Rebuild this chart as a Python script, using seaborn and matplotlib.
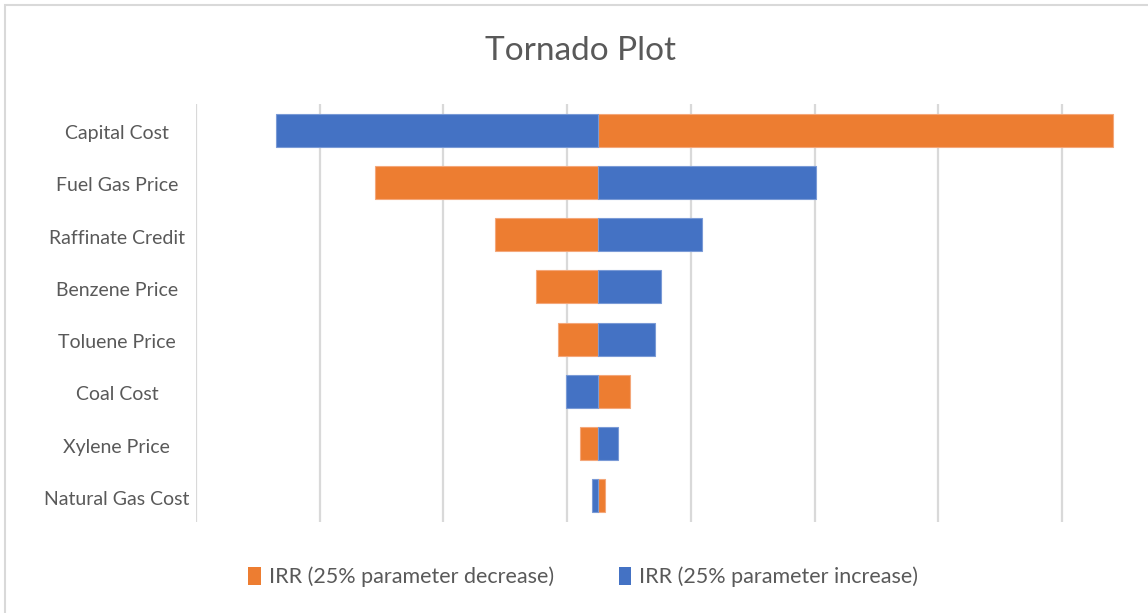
import numpy as np
import pandas as pd
import matplotlib
matplotlib.use("Agg")
import matplotlib.pyplot as plt
import matplotlib.transforms as mtransforms
from matplotlib.patches import Patch, Rectangle
import seaborn as sns

# Sensitivity of IRR (%) to +/-25% changes in each parameter
parameters = ["Capital Cost", "Fuel Gas Price", "Raffinate Credit", "Benzene Price",
              "Toluene Price", "Coal Cost", "Xylene Price", "Natural Gas Cost"]
irr_decrease = [37.06, 7.25, 12.07, 13.73, 14.64, 17.54, 15.53, 16.55]
irr_increase = [3.22, 25.07, 20.46, 18.78, 18.56, 14.97, 17.04, 16.01]
base_irr = 16.25
grid_values = [0, 5, 10, 15, 20, 25, 30, 35]

series_names = ["IRR (25% parameter decrease)", "IRR (25% parameter increase)"]
orange = "#ED7D31"
blue = "#4472C4"
text_color = "#595959"
grid_color = "#D9D9D9"

sns.set_theme(style="white")
plt.rcParams["font.family"] = ["Lato", "DejaVu Sans"]

df = pd.DataFrame({
    "parameter": parameters,
    "dec": np.array(irr_decrease) - base_irr,
    "inc": np.array(irr_increase) - base_irr,
})

fig = plt.figure(figsize=(11.48, 6.13), dpi=100)
ax = fig.add_axes([196 / 1148, 1 - 522 / 613, (1130 - 196) / 1148, (522 - 104) / 613])

sns.barplot(data=df, x="dec", y="parameter", orient="h", color=orange,
            saturation=1, width=0.63, edgecolor="#F4A77A", linewidth=0.8, ax=ax)
sns.barplot(data=df, x="inc", y="parameter", orient="h", color=blue,
            saturation=1, width=0.63, edgecolor="#7A9AD6", linewidth=0.8, ax=ax)

ax.set_xlim(0 - base_irr, 37.75 - base_irr)
ax.set_ylim(len(parameters) - 0.5, -0.5)
ax.set_xticks(np.array(grid_values) - base_irr)
ax.set_xticklabels([])
ax.xaxis.grid(True, color=grid_color, linewidth=1.6)
ax.yaxis.grid(False)
ax.set_axisbelow(True)
for s in ax.spines.values():
    s.set_visible(False)
ax.tick_params(axis="both", length=0)
ax.tick_params(axis="y", pad=57, labelsize=14, labelcolor=text_color)
shift_down = mtransforms.ScaledTranslation(0, -2 / 100, fig.dpi_scale_trans)
for lbl in ax.get_yticklabels():
    lbl.set_horizontalalignment("center")
    lbl.set_transform(lbl.get_transform() + shift_down)
ax.set_xlabel("")
ax.set_ylabel("")

fig.text(0.506, 1 - 51 / 613, "Tornado Plot", ha="center", va="center",
         fontsize=24, color=text_color)

handles = [Patch(facecolor=orange, edgecolor="none"), Patch(facecolor=blue, edgecolor="none")]
fig.legend(handles, series_names, loc="center", bbox_to_anchor=(0.508, 1 - 577 / 613),
           ncol=2, frameon=False, fontsize=15.5, labelcolor=text_color,
           handlelength=0.6, handleheight=0.9, handletextpad=0.35, columnspacing=3.0)

# chart area border
fig.patches.append(Rectangle((5 / 1148, -0.1), 1.2, 1.1 - 5 / 613, transform=fig.transFigure,
                             fill=False, edgecolor=grid_color, linewidth=1.5))

fig.savefig("out.png", dpi=100, facecolor="white")
